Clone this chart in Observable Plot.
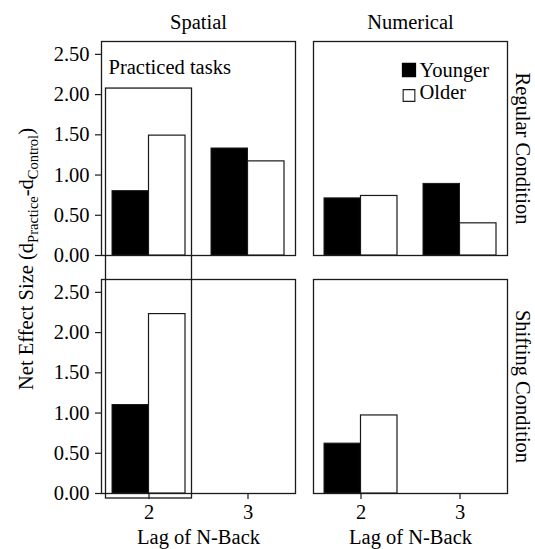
<!DOCTYPE html>
<html>
<head>
<meta charset="utf-8">
<script src="https://cdn.jsdelivr.net/npm/d3@7"></script>
<script src="https://cdn.jsdelivr.net/npm/@observablehq/plot@0.6"></script>
<style>
  html, body { margin: 0; padding: 0; background: #fff; }
  #chart svg { display: block; }
</style>
</head>
<body>
<div id="chart"></div>
<script>
// ---- Data ----
const columns = ["Spatial", "Numerical"];
const conditions = ["Regular", "Shifting"];
const conditionLabels = ["Regular Condition", "Shifting Condition"];
const lags = ["2", "3"];
const groups = ["Younger", "Older"];
const yTicks = [0, 0.5, 1, 1.5, 2, 2.5];
const yMax = 2.66;

const spatialRegularYounger = [0.80, 1.33];
const spatialRegularOlder = [1.49, 1.17];
const numericalRegularYounger = [0.71, 0.89];
const numericalRegularOlder = [0.74, 0.40];
const spatialShiftingYounger = [1.10, null];
const spatialShiftingOlder = [2.23, null];
const numericalShiftingYounger = [0.62, null];
const numericalShiftingOlder = [0.97, null];

const xTitle = "Lag of N-Back";
const practicedLabel = "Practiced tasks";
const practicedTop = 2.075;

// ---- Build the table ----
const rows = [];
function addSeries(column, condition, group, values) {
  values.forEach((v, i) => {
    if (v != null) rows.push({column, condition, group, lag: lags[i], value: v});
  });
}
addSeries("Spatial", "Regular", "Younger", spatialRegularYounger);
addSeries("Spatial", "Regular", "Older", spatialRegularOlder);
addSeries("Numerical", "Regular", "Younger", numericalRegularYounger);
addSeries("Numerical", "Regular", "Older", numericalRegularOlder);
addSeries("Spatial", "Shifting", "Younger", spatialShiftingYounger);
addSeries("Spatial", "Shifting", "Older", spatialShiftingOlder);
addSeries("Numerical", "Shifting", "Younger", numericalShiftingYounger);
addSeries("Numerical", "Shifting", "Older", numericalShiftingOlder);

const practiced = [{column: "Spatial", condition: "Regular", lag: lags[0], top: practicedTop, label: practicedLabel}];

const font = "'Liberation Serif', Tinos, 'Times New Roman', serif";
const ink = "#1a1a1a";

function makePlot(bw, rowStep) {
  return Plot.plot({
    width: 535,
    height: 549,
    marginLeft: 100,
    marginRight: 27,
    marginTop: 40,
    marginBottom: 55,
    style: {fontSize: "20.5px", color: "#000", background: "#fff"},
    fx: {domain: columns, paddingInner: 0.0845, paddingOuter: 0},
    fy: {domain: conditions, paddingInner: 0.1, paddingOuter: 0, axis: null},
    x: {domain: lags, paddingInner: 0.267, paddingOuter: 0.104},
    y: {domain: [0, yMax]},
    marks: [
      Plot.frame({stroke: ink, strokeWidth: 1.3}),
      Plot.barY(rows.filter(d => d.group === groups[0]), {
        fx: "column", fy: "condition", x: "lag", y: "value",
        fill: "#000", stroke: ink, strokeWidth: 1, insetRight: bw / 2
      }),
      Plot.barY(rows.filter(d => d.group === groups[1]), {
        fx: "column", fy: "condition", x: "lag", y: "value",
        fill: "#fff", stroke: ink, strokeWidth: 1.2, insetLeft: bw / 2
      }),
      Plot.barY(practiced, {
        fx: "column", fy: "condition", x: "lag", y1: 0, y2: "top",
        fill: "none", stroke: ink, strokeWidth: 1.3,
        insetLeft: -6.5, insetRight: -6.5, insetBottom: -(rowStep + 5)
      }),
      Plot.text(practiced, {
        fx: "column", fy: "condition", text: "label",
        frameAnchor: "top-left", textAnchor: "start", lineAnchor: "top",
        dx: 7, dy: 18, fill: "#000"
      }),
      Plot.axisY({
        ticks: yTicks, tickFormat: d3.format(".2f"), tickSize: 6, tickPadding: 6,
        label: null, facetAnchor: "left", stroke: ink, strokeWidth: 1.2
      }),
      Plot.axisX({
        tickSize: 6, tickPadding: 5, label: null, facetAnchor: "bottom",
        stroke: ink, strokeWidth: 1.2
      }),
      Plot.axisFx({anchor: "top", tickSize: 0, tickPadding: 13, label: null}),
      Plot.text(columns, {
        fx: d => d, fy: () => conditions[1], text: () => xTitle,
        frameAnchor: "bottom", lineAnchor: "top", dy: 36, fill: "#000"
      }),
      Plot.text(conditionLabels, {
        fx: () => columns[1], fy: (d, i) => conditions[i], text: d => d,
        frameAnchor: "right", textAnchor: "middle", lineAnchor: "middle",
        rotate: 90, dx: 15, fill: "#000"
      }),
      // Legend inside the Numerical / Regular panel
      Plot.dot([groups[0]], {
        fx: () => columns[1], fy: () => conditions[0], frameAnchor: "top-right",
        symbol: "square", r: 7.2, fill: "#000", stroke: "#000", dx: -98.5, dy: 28.5
      }),
      Plot.dot([groups[1]], {
        fx: () => columns[1], fy: () => conditions[0], frameAnchor: "top-right",
        symbol: "square", r: 6.6, fill: "#fff", stroke: ink, strokeWidth: 1.1, dx: -98.5, dy: 54
      }),
      Plot.text([groups[0]], {
        fx: () => columns[1], fy: () => conditions[0], text: d => d,
        frameAnchor: "top-right", textAnchor: "start", lineAnchor: "middle",
        dx: -88, dy: 29, fill: "#000"
      }),
      Plot.text([groups[1]], {
        fx: () => columns[1], fy: () => conditions[0], text: d => d,
        frameAnchor: "top-right", textAnchor: "start", lineAnchor: "middle",
        dx: -88, dy: 50.5, fill: "#000"
      })
    ]
  });
}

// First pass to read the band width and facet row step from Plot's own scales
const probe = makePlot(0, 0);
const xs = probe.scale("x");
const fys = probe.scale("fy");
const bw = xs.bandwidth;
let rowStep = fys.step;
if (!rowStep) {
  const [r0, r1] = fys.range;
  rowStep = Math.abs(r1 - r0) / (conditions.length - 0.1);
}
const plot = makePlot(bw, rowStep);
document.getElementById("chart").appendChild(plot);

// Y-axis title with subscripts
const svg = d3.select(plot);
const t = svg.append("text")
  .attr("transform", "translate(33,259) rotate(-90)")
  .attr("text-anchor", "middle")
  .attr("font-size", "20.5px")
  .attr("fill", "#000");
t.append("tspan").text("Net Effect Size (d");
t.append("tspan").attr("font-size", "14.5px").attr("dy", 5).text("Practice");
t.append("tspan").attr("dy", -5).text("-d");
t.append("tspan").attr("font-size", "14.5px").attr("dy", 5).text("Control");
t.append("tspan").attr("dy", -5).text(")");

// Serif family on every text, inline and important
svg.style("font-family", font, "important");
svg.selectAll("g, text, tspan").style("font-family", font, "important");
</script>
</body>
</html>
